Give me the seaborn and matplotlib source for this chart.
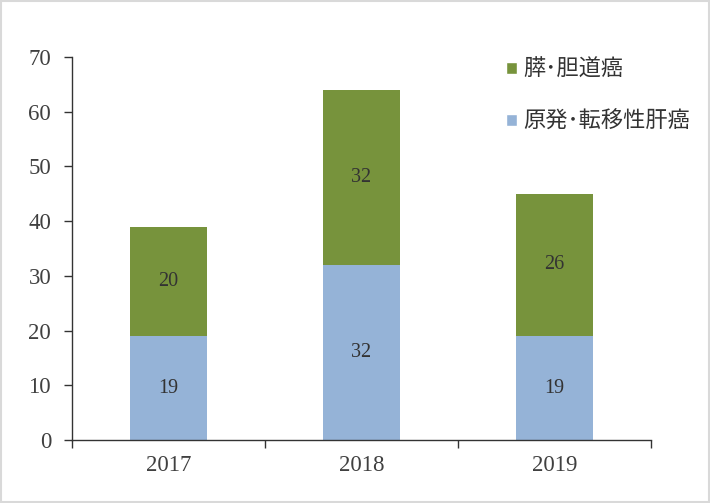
import pandas as pd
import matplotlib.pyplot as plt
import seaborn as sns
from matplotlib.patches import Patch, Rectangle

years = ["2017", "2018", "2019"]
liver = [19, 32, 19]          # 原発･転移性肝癌
pancreas_biliary = [20, 32, 26]  # 膵･胆道癌
labels = ["原発･転移性肝癌", "膵･胆道癌"]

blue = "#95B3D7"
green = "#77933C"
text_col = "#404040"

df = pd.DataFrame({"year": years, "liver": liver, "pb": pancreas_biliary})

sns.set_style("white")
plt.rcParams["font.family"] = ["Liberation Serif", "DejaVu Serif"]

fig = plt.figure(figsize=(7.1, 5.03), dpi=100)
ax = fig.add_axes([0.1014, 0.1252, 0.8156, 0.7615])

sns.barplot(data=df, x="year", y="liver", color=blue, width=0.4,
            saturation=1, linewidth=0, ax=ax)
sns.barplot(data=df, x="year", y="pb", color=green, width=0.4,
            saturation=1, linewidth=0, bottom=df["liver"], ax=ax)

# values in the middle of each segment
for i, (a, b) in enumerate(zip(liver, pancreas_biliary)):
    ax.text(i, a / 2, str(a), ha="center", va="center", fontsize=14.5, color="#333333")
    ax.text(i, a + b / 2, str(b), ha="center", va="center", fontsize=14.5, color="#333333")

ax.set_xlim(-0.5, 2.5)
ax.set_ylim(0, 70)
ax.set_yticks(range(0, 71, 10))
ax.set_xlabel("")
ax.set_ylabel("")

for s in ["top", "right"]:
    ax.spines[s].set_visible(False)
for s in ["left", "bottom"]:
    ax.spines[s].set_color("#333333")
    ax.spines[s].set_linewidth(1.0)

ax.tick_params(axis="y", which="major", length=6, width=1, color="#333333",
               labelsize=16.5, labelcolor=text_col, pad=9, left=True)
ax.tick_params(axis="x", which="major", length=0, labelsize=16.5,
               labelcolor=text_col, pad=11)
ax.set_xticks([-0.5, 0.5, 1.5, 2.5], minor=True)
ax.tick_params(axis="x", which="minor", length=6, width=1, color="#333333",
               bottom=True)

handles = [Patch(facecolor=green, label=labels[1]),
           Patch(facecolor=blue, label=labels[0])]
leg = ax.legend(handles=handles, loc="upper left", bbox_to_anchor=(0.715, 1.05),
                frameon=False, handlelength=0.48, handleheight=0.48,
                handletextpad=0.3, labelspacing=1.3,
                prop={"family": ["Noto Sans CJK JP", "DejaVu Sans"], "size": 16})
for t in leg.get_texts():
    t.set_color("#333333")

fig.patches.append(Rectangle((0.001, 0.001), 0.998, 0.998, transform=fig.transFigure,
                             fill=False, edgecolor="#D9D9D9", linewidth=1.5))

fig.savefig("out.png", dpi=100)
